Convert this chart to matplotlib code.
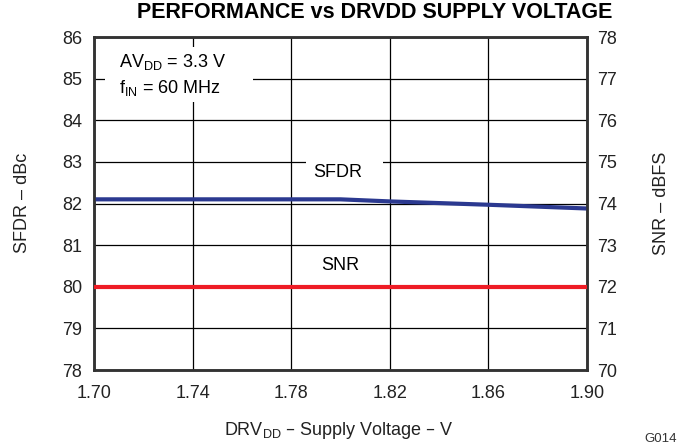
import matplotlib.pyplot as plt
from matplotlib.patches import Rectangle

plt.rcParams['font.family'] = ['Liberation Sans', 'DejaVu Sans']

# Data
voltage = [1.70, 1.74, 1.78, 1.80, 1.82, 1.86, 1.90]
sfdr = [82.10, 82.10, 82.10, 82.10, 82.05, 81.97, 81.88]
snr = [72.0, 72.0, 72.0, 72.0, 72.0, 72.0, 72.0]

x_ticks = [1.70, 1.74, 1.78, 1.82, 1.86, 1.90]
x_labels = ["1.70", "1.74", "1.78", "1.82", "1.86", "1.90"]

W, H = 684, 444
fig = plt.figure(figsize=(W / 100, H / 100), dpi=100)
ax = fig.add_axes([94 / W, 1 - 370 / H, (587 - 94) / W, (370 - 37) / H])
ax2 = ax.twinx()

ax.set_xlim(1.70, 1.90)
ax.set_ylim(78, 86)
ax2.set_ylim(70, 78)
ax.set_xticks(x_ticks)
ax.set_xticklabels(x_labels)
ax.set_yticks(range(78, 87))
ax2.set_yticks(range(70, 79))

ax.grid(True, color='black', linewidth=0.9)
ax.set_axisbelow(True)
ax.tick_params(axis='x', length=0, labelsize=13, pad=10.5, colors='#222222')
ax.tick_params(axis='y', length=0, labelsize=13, pad=8.5, colors='#222222')
ax2.tick_params(axis='y', length=0, labelsize=13, pad=7, colors='#222222')
for a in (ax, ax2):
    for s in a.spines.values():
        s.set_linewidth(1.8)
        s.set_color('#333333')

ax.plot(voltage, sfdr, color='#2b3990', linewidth=3.0, zorder=3)
ax2.plot(voltage, snr, color='#ee1c25', linewidth=3.0, zorder=3)

# white backgrounds behind the annotations (they hide the grid)
ax.add_patch(Rectangle((1.7045, 84.44), 0.0599, 1.32, facecolor='white', edgecolor='none', zorder=1))
ax.add_patch(Rectangle((1.7861, 82.55), 0.0310, 0.75, facecolor='white', edgecolor='none', zorder=1))

ax.text(1.7102, 85.28, "AV$_{\\mathregular{DD}}$ = 3.3 V", fontsize=13, va='baseline', ha='left', zorder=4)
ax.text(1.7102, 84.655, "f$_{\\mathregular{IN}}$ = 60 MHz", fontsize=13, va='baseline', ha='left', zorder=4)
ax.text(1.799, 82.64, "SFDR", fontsize=13, ha='center', va='baseline', zorder=4)
ax.text(1.800, 80.40, "SNR", fontsize=13, ha='center', va='baseline', zorder=4)

fig.text(23 / W, 1 - 203 / H, "SFDR – dBc", fontsize=13, rotation=90, ha='center', va='center', color='#222222')
fig.text(662 / W, 1 - 203 / H, "SNR – dBFS", fontsize=13, rotation=90, ha='center', va='center', color='#222222')
fig.text(339 / W, 1 - 430 / H, "DRV$_{\\mathregular{DD}}$ – Supply Voltage – V", fontsize=13,
         ha='center', va='center', color='#222222')
fig.text(375 / W, 1 - 12 / H, "PERFORMANCE vs DRVDD SUPPLY VOLTAGE",
         fontsize=15.5, fontweight='bold', ha='center', va='center')
fig.text(677 / W, 1 - 439 / H, "G014", fontsize=9.5, ha='right', va='center', color='#333333')

plt.savefig("out.png", dpi=100)
